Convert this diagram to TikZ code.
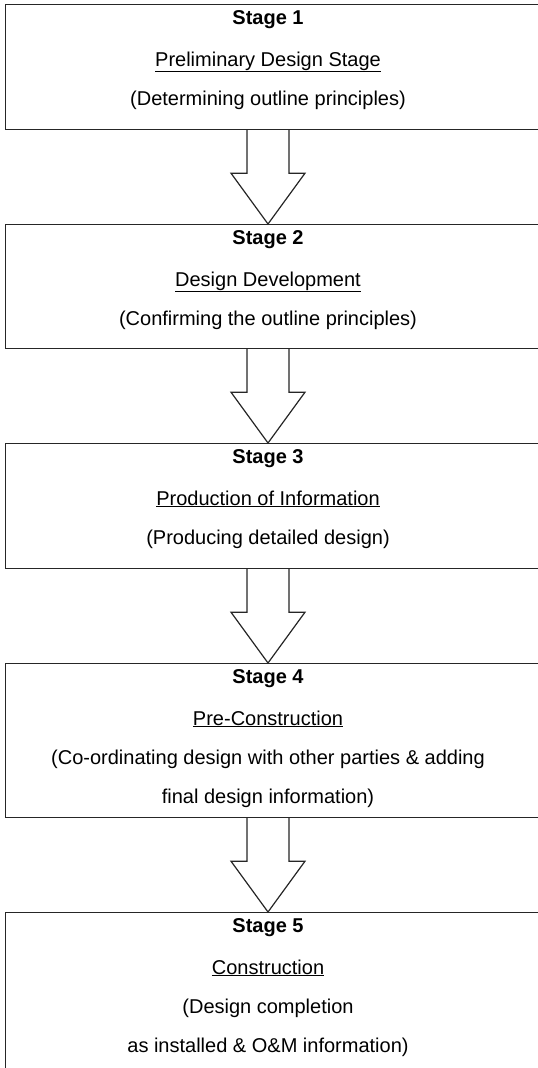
\documentclass[tikz,border=0pt]{standalone}
\usepackage{fontspec}
\setmainfont{Liberation Sans}
\usetikzlibrary{calc}
\newcommand{\uline}[1]{\underline{#1}}
\begin{document}
\begin{tikzpicture}[x=1pt,y=-1pt,
  stagebox/.style={draw=black!85, line width=1.2pt, anchor=north west, minimum width=560pt, inner sep=0pt},
  txt/.style={font=\fontsize{20}{24}\selectfont, anchor=base, inner sep=0pt},
  ttl/.style={font=\fontsize{20}{24}\selectfont\bfseries, anchor=base, inner sep=0pt},
  blockarrow/.style={draw=black!85, line width=1.2pt, fill=white, line join=miter}]
\useasboundingbox (0,0) rectangle (538,1068);
% columns for arrows
\coordinate (sl) at (247,0);
\coordinate (sr) at (289,0);
\coordinate (hl) at (231,0);
\coordinate (hr) at (305,0);
\coordinate (mid) at (268,0);
% boxes
\node[stagebox, minimum height=125pt] (b1) at (5,4) {};
\node[stagebox, minimum height=124pt] (b2) at (5,224) {};
\node[stagebox, minimum height=125pt] (b3) at (5,443) {};
\node[stagebox, minimum height=154pt] (b4) at (5,663) {};
\node[stagebox, minimum height=190pt] (b5) at (5,912) {};
% texts
\node[ttl] (t1a) at (268,24) {Stage 1};
\node[txt] (t1b) at (268,66) {\uline{Preliminary Design Stage}};
\node[txt] (t1c) at (268,105) {(Determining outline principles)};
\node[ttl] (t2a) at (268,244) {Stage 2};
\node[txt] (t2b) at (268,286) {\uline{Design Development}};
\node[txt] (t2c) at (268,325) {(Confirming the outline principles)};
\node[ttl] (t3a) at (268,463) {Stage 3};
\node[txt] (t3b) at (268,505) {\uline{Production of Information}};
\node[txt] (t3c) at (268,544) {(Producing detailed design)};
\node[ttl] (t4a) at (268,683) {Stage 4};
\node[txt] (t4b) at (268,725) {\uline{Pre-Construction}};
\node[txt] (t4c) at (268,764) {(Co-ordinating design with other parties \& adding};
\node[txt] (t4d) at (268,803) {final design information)};
\node[ttl] (t5a) at (268,932) {Stage 5};
\node[txt] (t5b) at (268,974) {\uline{Construction}};
\node[txt] (t5c) at (268,1013) {(Design completion};
\node[txt] (t5d) at (268,1052) {as installed \& O\&M information)};
% block arrows
\foreach \a/\b in {b1/b2,b2/b3,b3/b4,b4/b5}{
  \draw[blockarrow] (\a.south -| sl) -- ($(\a.south -| sl)+(0,43)$) -- ($(\a.south -| hl)+(0,43)$)
    -- (\b.north -| mid) -- ($(\a.south -| hr)+(0,43)$) -- ($(\a.south -| sr)+(0,43)$) -- (\a.south -| sr);
}
\end{tikzpicture}
\end{document}
